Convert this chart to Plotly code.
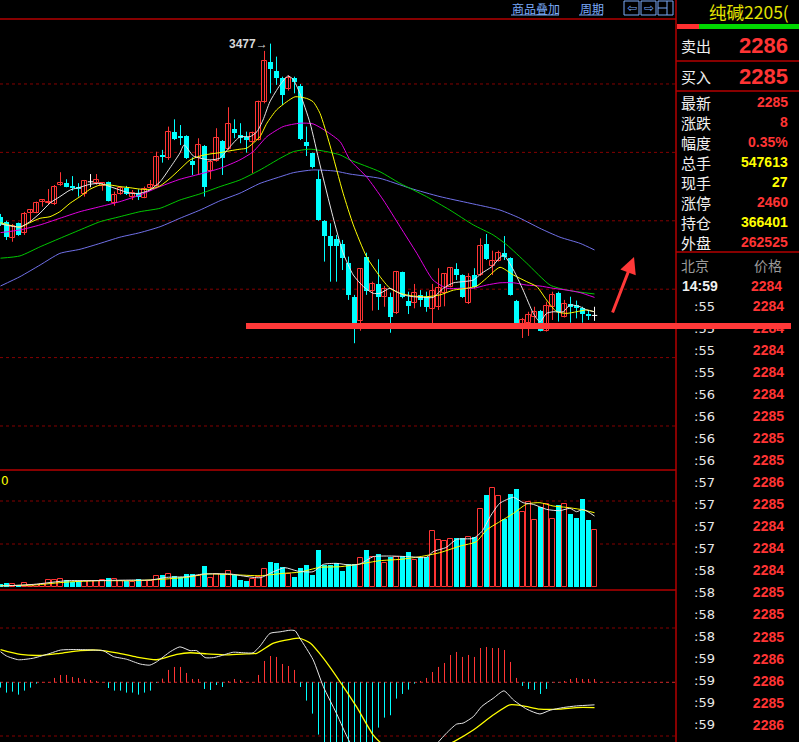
import plotly.graph_objects as go

W, H = 799, 742
SPLIT_X = 676  # left edge of the quote panel, in pixels

RED = "#ff3434"
CYAN = "#00ffff"
YELLOW = "#ffff00"
GRID = "#840000"
LINE = "#b40000"

# ---- daily candles for 纯碱2205, oldest -> newest ----
opens = [2718, 2696, 2623, 2689, 2648, 2735, 2735, 2781, 2779, 2772,
         2857, 2867, 2854, 2850, 2816, 2871, 2867, 2853, 2869, 2779,
         2816, 2843, 2806, 2823, 2801, 2843, 2853, 2989, 2974, 3091,
         3072, 3072, 2962, 2974, 3028, 2920, 2964, 3050, 3014, 3103,
         3076, 3066, 3047, 3054, 3222, 3395, 3358, 3325, 3277, 3325,
         3291, 3047, 2996, 2883, 2699, 2633, 2620, 2598, 2514, 2367,
         2262, 2540, 2393, 2423, 2364, 2367, 2297, 2474, 2348, 2341,
         2374, 2367, 2312, 2323, 2382, 2411, 2489, 2462, 2338, 2462,
         2462, 2598, 2502, 2525, 2557, 2536, 2350, 2243, 2250, 2279,
         2306, 2218, 2323, 2385, 2279, 2334, 2329, 2316, 2291, 2285]
highs = [2730, 2700, 2686, 2692, 2739, 2750, 2784, 2791, 2839, 2857,
         2913, 2882, 2896, 2865, 2879, 2905, 2905, 2870, 2872, 2828,
         2846, 2853, 2835, 2838, 2850, 2879, 3003, 3011, 3113, 3145,
         3120, 3075, 2978, 3062, 3032, 2967, 3106, 3054, 3198, 3145,
         3128, 3091, 3091, 3227, 3445, 3477, 3420, 3332, 3339, 3332,
         3300, 3113, 2999, 2923, 2703, 2689, 2638, 2616, 2543, 2375,
         2491, 2560, 2433, 2531, 2414, 2385, 2480, 2477, 2389, 2423,
         2396, 2389, 2423, 2492, 2470, 2495, 2514, 2465, 2470, 2492,
         2623, 2642, 2569, 2569, 2633, 2540, 2353, 2274, 2301, 2323,
         2309, 2345, 2389, 2389, 2353, 2367, 2350, 2323, 2309, 2323]
lows = [2677, 2616, 2608, 2634, 2638, 2692, 2733, 2762, 2769, 2769,
        2853, 2847, 2832, 2806, 2806, 2847, 2858, 2832, 2785, 2766,
        2814, 2813, 2791, 2791, 2799, 2838, 2850, 2955, 2967, 3054,
        3032, 2971, 2901, 2901, 2806, 2882, 2959, 2901, 3011, 3062,
        3040, 2999, 2908, 3052, 3215, 3259, 3296, 3208, 3271, 3259,
        3054, 2984, 2930, 2700, 2521, 2433, 2433, 2484, 2353, 2163,
        2218, 2375, 2306, 2309, 2323, 2209, 2291, 2360, 2291, 2316,
        2323, 2301, 2250, 2309, 2325, 2408, 2440, 2362, 2335, 2404,
        2458, 2528, 2462, 2521, 2528, 2372, 2235, 2186, 2195, 2243,
        2215, 2214, 2265, 2258, 2276, 2253, 2272, 2253, 2265, 2261]
closes = [2686, 2628, 2677, 2638, 2730, 2747, 2777, 2790, 2784, 2850,
          2866, 2850, 2843, 2841, 2875, 2871, 2879, 2867, 2787, 2813,
          2843, 2816, 2821, 2806, 2839, 2857, 2981, 2978, 3091, 3057,
          3062, 2974, 2945, 3032, 2850, 2957, 3062, 2974, 3123, 3086,
          3062, 3054, 3084, 3222, 3401, 3364, 3325, 3252, 3328, 3310,
          3057, 3028, 2935, 2703, 2633, 2589, 2591, 2538, 2375, 2243,
          2487, 2393, 2423, 2367, 2400, 2279, 2474, 2364, 2328, 2382,
          2353, 2321, 2392, 2404, 2467, 2492, 2462, 2364, 2452, 2411,
          2589, 2531, 2524, 2557, 2543, 2375, 2243, 2265, 2287, 2301,
          2218, 2326, 2374, 2301, 2335, 2323, 2316, 2291, 2286, 2285]
volumes = [25600, 35200, 22400, 16000, 32000, 19200, 19200, 22400, 60800, 60800,
           70400, 64000, 48000, 54400, 54400, 54400, 54400, 64000, 83200, 70400,
           54400, 54400, 41600, 73600, 54400, 54400, 102400, 112000, 121600, 102400,
           96000, 121600, 121600, 102400, 198400, 83200, 121600, 118400, 150400, 112000,
           64000, 54400, 73600, 96000, 169600, 236800, 227200, 185600, 121600, 92800,
           176000, 208000, 112000, 352000, 208000, 208000, 224000, 150400, 214400, 214400,
           272000, 352000, 288000, 313600, 224000, 288000, 288000, 294400, 332800, 256000,
           288000, 281600, 534400, 444800, 435200, 454400, 464000, 464000, 473600, 473600,
           742400, 880000, 944000, 870400, 646400, 889600, 937600, 716800, 809600, 640000,
           768000, 793600, 646400, 787200, 793600, 697600, 659200, 841600, 640000, 547613]
macd_bar = [-9.9, -19.2, -17.4, -23, -15.5, -9.9, -2.5, 0.6, 0.6, 8.1,
            13.7, 13.7, 9.9, 8.1, 6.2, 4.3, 2.5, 0.3, -10.6, -15.5,
            -15.5, -19.2, -19.2, -23, -19.2, -15.5, -1.2, 6.8, 23, 28.6,
            28.6, 17.4, 6.2, 6.2, -12.4, -14.3, -5, -8.7, 2.5, 6.2,
            4.3, 0.5, 0.5, 13.7, 39.7, 49, 47.2, 34.1, 30.4, 23,
            -8.7, -34.1, -58.3, -97.4, -125, -145, -155, -160, -160, -155,
            -145, -130, -118, -84.4, -65.8, -61.4, -30.4, -21.7, -13.7, -2.5,
            2.5, 8.1, 19.2, 28.6, 36, 50.9, 56.5, 47.2, 50.9, 47.2,
            63.9, 65.8, 63.9, 63.9, 60.2, 37.9, 8.1, -6.8, -12.4, -14.3,
            -21.7, -12.4, -0.6, -0.6, 2.5, 6.2, 8.1, 6.2, 6.2, 6.2]

# moving averages: (candle index, price)
ma5 = [(0, 2686), (3.25, 2673), (4.9, 2696), (6.6, 2734), (8.25, 2778), (9.9, 2806),
       (11.6, 2835), (13.25, 2847), (14.9, 2860), (16.6, 2864), (18.25, 2850), (19.9, 2835),
       (21.6, 2821), (23.25, 2821), (24.9, 2835), (26.6, 2871), (28.25, 2932), (29.9, 2997),
       (30.6, 3033), (32.1, 2985), (33.25, 2975), (34.9, 2967), (36.6, 2975), (38.25, 3025),
       (39.9, 3068), (41.6, 3069), (42.75, 3091), (43.75, 3142), (44.9, 3222), (46.6, 3296),
       (47.9, 3335), (48.75, 3321), (49.9, 3259), (51.6, 3128), (53.25, 2945), (55.4, 2718),
       (57.1, 2559), (58.8, 2462), (60.5, 2411), (62.1, 2382), (63.25, 2382), (64.9, 2404),
       (66, 2389), (67.1, 2375), (68.8, 2367), (70.5, 2364), (72.1, 2364), (73.8, 2404),
       (75.5, 2428), (77.1, 2433), (78.8, 2440), (80.2, 2470), (81.9, 2499), (83.8, 2550),
       (85.5, 2484), (87.1, 2396), (88.8, 2294), (89.9, 2257), (91, 2294), (92.1, 2301),
       (93.8, 2301), (94.9, 2331), (96.6, 2323), (97.7, 2309), (99, 2301)]
ma10 = [(0, 2692), (3.25, 2672), (4.9, 2692), (6.6, 2711), (8.25, 2718), (9.9, 2740),
        (11.6, 2777), (13.25, 2806), (14.9, 2838), (16.6, 2857), (18.25, 2857), (19.9, 2850),
        (21.6, 2845), (23.25, 2839), (24.9, 2838), (26.6, 2853), (28.25, 2886), (29.9, 2926),
        (31.6, 2967), (33.25, 2984), (34.9, 2993), (36.6, 2999), (38.25, 3007), (39.9, 3014),
        (41, 3018), (42.1, 3040), (43.25, 3069), (44.4, 3128), (46, 3186), (47.7, 3222),
        (49.1, 3244), (51, 3237), (52.1, 3222), (53.25, 3171), (54.9, 3032), (57.1, 2821),
        (58.8, 2682), (61, 2543), (63.25, 2455), (64.9, 2404), (66.6, 2382), (68.8, 2370),
        (71, 2367), (73.25, 2375), (75.5, 2396), (77.7, 2404), (79.4, 2414), (81, 2448),
        (83.25, 2496), (85.5, 2462), (87.7, 2433), (89.4, 2411), (91, 2353), (92.7, 2301),
        (94.4, 2294), (96, 2301), (97.7, 2309), (99, 2301)]
ma20 = [(0, 2648), (3.25, 2660), (6.6, 2682), (9.9, 2711), (13.25, 2740), (16.6, 2762),
        (19.9, 2784), (23.25, 2813), (26.6, 2850), (29.9, 2882), (33.25, 2905), (36.6, 2930),
        (39.9, 2967), (42.1, 3003), (44.4, 3069), (47.1, 3113), (49.9, 3128), (52.1, 3125),
        (54.4, 3091), (56.6, 3047), (58.25, 2967), (61, 2893), (63.8, 2791), (66.6, 2674),
        (69.4, 2557), (72.1, 2440), (74.4, 2404), (76.6, 2404), (78.8, 2404), (81, 2418),
        (83.25, 2428), (85.5, 2428), (87.7, 2418), (89.9, 2414), (92.1, 2404), (94.4, 2396),
        (96.6, 2385), (99, 2364)]
ma40 = [(0, 2536), (3.25, 2546), (6.6, 2586), (9.9, 2623), (13.25, 2660), (16.6, 2696),
        (19.9, 2718), (23.25, 2740), (26.6, 2755), (29.9, 2791), (33.25, 2818), (36.6, 2850),
        (39.9, 2879), (43.25, 2923), (46.6, 2974), (48.8, 3003), (51.6, 3014), (54.4, 3003),
        (56.6, 2989), (58.25, 2967), (63.25, 2915), (66.6, 2864), (71, 2806), (74.9, 2747),
        (78.8, 2682), (82.1, 2638), (84.4, 2594), (87.7, 2514), (91.6, 2418), (94.4, 2396),
        (99, 2379)]
ma60 = [(0, 2414), (3.25, 2455), (6.6, 2506), (9.9, 2557), (13.25, 2575), (16.6, 2601),
        (19.9, 2628), (23.25, 2648), (26.6, 2674), (29.9, 2711), (33.25, 2747), (36.6, 2788),
        (39.9, 2821), (43.25, 2864), (46.6, 2893), (48.8, 2911), (52.1, 2923), (55.75, 2918),
        (58.25, 2905), (63.25, 2886), (68.25, 2843), (73.25, 2806), (78.25, 2777), (83.25, 2747),
        (86.6, 2711), (89.9, 2667), (93.25, 2628), (96.6, 2601), (99, 2572)]

vol_ma5 = [(0, 6400), (5.5, 22400), (11.1, 57600), (14.4, 57600), (18.3, 60800), (22.2, 64000),
           (25, 64000), (27.7, 89600), (31, 96000), (33.8, 121600), (38.3, 121600), (40.5, 102400),
           (43.3, 86400), (45.5, 144000), (47.4, 182400), (49.5, 150000), (52.1, 144000),
           (53.8, 214400), (56, 224000), (58.2, 208000), (59.9, 217600), (62.1, 288000),
           (64.9, 294400), (68.2, 288000), (71, 281600), (72.1, 336000), (74.3, 377600),
           (76, 454400), (78.8, 464000), (80.2, 528000), (81.6, 672000), (83.2, 800000),
           (85.5, 857600), (87.1, 806400), (88.8, 790400), (91, 742400), (93.2, 729600),
           (94.9, 752000), (96, 720000), (97.1, 742400), (99, 678400)]
vol_ma10 = [(0, 9600), (5.5, 16000), (11.1, 44800), (16.6, 57600), (22.2, 57600), (26.6, 70400),
            (31, 89600), (34.4, 121600), (38.8, 115200), (43.3, 105600), (47.1, 128000),
            (49.9, 140000), (53.2, 185600), (56.6, 192000), (59.9, 217600), (63.2, 249600),
            (66.6, 262400), (69.9, 288000), (73.2, 326400), (76.6, 390400), (79.3, 432000),
            (81, 544000), (83.2, 624000), (85.5, 704000), (87.7, 793600), (89.9, 806400),
            (92.1, 774400), (94.3, 761600), (96.6, 742400), (99, 710400)]

dif = [(0, 57), (1, 49), (3, 42), (5.5, 45), (8.3, 54), (10, 60), (12.7, 61), (15.5, 60),
       (17.1, 59), (18.8, 48), (21, 43), (23.3, 34), (24.9, 32), (26, 38), (28.3, 57),
       (29.9, 66), (31.6, 59), (32.7, 59), (34.1, 46), (35.5, 46), (36.6, 49), (38.8, 56),
       (40.5, 55), (42.1, 55), (43.3, 68), (44.9, 91), (46.6, 94), (48.3, 97), (49.1, 96),
       (49.9, 82), (52.1, 42), (53.8, -8), (56, -58), (58.2, -111), (61, -150), (65.5, -185),
       (69.3, -170), (72.1, -125), (73, -111), (74.3, -95), (76, -78), (77.1, -76),
       (78.8, -64), (80.2, -45), (82.1, -30), (83.9, -16), (85.5, -33), (87.7, -50),
       (89.9, -59), (91.6, -52), (93.8, -47), (96, -44), (99, -42)]
dea = [(0, 61), (3.3, 52), (6.6, 50), (9.9, 54), (13.3, 59), (16, 60), (19.4, 55), (22.7, 47),
       (26, 42), (29.4, 52), (31.6, 55), (34.4, 53), (37.7, 51), (41, 53), (42.7, 54),
       (45.5, 73), (48.3, 80), (49.9, 82), (51.6, 73), (53.8, 45), (56.6, 1), (59.3, -45),
       (62.1, -98), (63.2, -111), (66.6, -140), (71, -135), (75.5, -111), (78.8, -89),
       (82.1, -61), (84.9, -42), (87.1, -44), (89.9, -50), (93.2, -50), (96, -47), (99, -47)]

# quote panel
quote_labels = ["最新", "涨跌", "幅度", "总手", "现手", "涨停", "持仓", "外盘"]
quote_values = ["2285", "8", "0.35%", "547613", "27", "2460", "366401", "262525"]
quote_colors = [RED, RED, RED, YELLOW, YELLOW, RED, YELLOW, RED]
tick_times = [":55"] * 4 + [":56"] * 4 + [":57"] * 4 + [":58"] * 4 + [":59"] * 4
tick_prices = ["2284", "2284", "2284", "2284", "2284", "2285", "2285", "2285", "2286", "2285",
               "2284", "2284", "2284", "2285", "2285", "2285", "2286", "2286", "2285", "2286"]


def px(x):
    return x / W


def py(y):
    return 1 - y / H


def segments(ids, lo, hi):
    xs, ys = [], []
    for i in ids:
        xs += [i, i, None]
        ys += [lo[i], hi[i], None]
    return xs, ys


def line_trace(pts, color, axis, width=1):
    return go.Scatter(x=[p[0] for p in pts], y=[p[1] for p in pts], mode="lines",
                      line=dict(color=color, width=width, shape="spline", smoothing=0.6),
                      xaxis="x" + axis, yaxis="y" + axis, hoverinfo="skip")


idx = list(range(len(closes)))
up = [i for i in idx if closes[i] > opens[i]]
down = [i for i in idx if closes[i] < opens[i]]
flat = [i for i in idx if closes[i] == opens[i]]

fig = go.Figure()

# ---- price panel ----
for ids, col in [(up, RED), (down, CYAN), (flat, "#ffffff")]:
    xs, ys = segments(ids, lows, highs)
    fig.add_trace(go.Scatter(x=xs, y=ys, mode="lines", line=dict(color=col, width=1),
                             hoverinfo="skip"))
fig.add_trace(go.Bar(x=up, y=[max(closes[i] - opens[i], 2) for i in up],
                     base=[opens[i] for i in up], width=0.72,
                     marker=dict(color="black", line=dict(color=RED, width=1))))
fig.add_trace(go.Bar(x=down, y=[max(opens[i] - closes[i], 2) for i in down],
                     base=[closes[i] for i in down], width=0.72,
                     marker=dict(color=CYAN, line=dict(width=0))))
dx, dy = [], []
for i in flat:
    dx += [i - 0.45, i + 0.45, None]
    dy += [closes[i], closes[i], None]
fig.add_trace(go.Scatter(x=dx, y=dy, mode="lines", line=dict(color="#ffffff", width=1)))

for pts, col in [(ma60, "#7070e8"), (ma40, "#00c800"), (ma20, "#e000e0"),
                 (ma10, YELLOW), (ma5, "#e6e6e6")]:
    fig.add_trace(line_trace(pts, col, ""))

# ---- volume panel ----
vol_up = [i for i in idx if closes[i] >= opens[i]]
vol_dn = [i for i in idx if closes[i] < opens[i]]
fig.add_trace(go.Bar(x=vol_up, y=[volumes[i] for i in vol_up], width=0.72,
                     marker=dict(color="black", line=dict(color=RED, width=1)),
                     xaxis="x2", yaxis="y2"))
fig.add_trace(go.Bar(x=vol_dn, y=[volumes[i] for i in vol_dn], width=0.72,
                     marker=dict(color=CYAN, line=dict(width=0)), xaxis="x2", yaxis="y2"))
fig.add_trace(line_trace(vol_ma10, YELLOW, "2"))
fig.add_trace(line_trace(vol_ma5, "#e6e6e6", "2"))

# ---- MACD panel ----
pos = [i for i in idx if macd_bar[i] >= 0]
neg = [i for i in idx if macd_bar[i] < 0]
zero = [0] * len(idx)
for ids, col in [(pos, RED), (neg, CYAN)]:
    xs, ys = segments(ids, zero, macd_bar)
    fig.add_trace(go.Scatter(x=xs, y=ys, mode="lines", line=dict(color=col, width=1),
                             xaxis="x3", yaxis="y3", hoverinfo="skip"))
fig.add_trace(line_trace(dea, YELLOW, "3", 1.3))
fig.add_trace(line_trace(dif, "#e6e6e6", "3"))

# ---- tick list on the right (a text trace so the drawn line can cover it) ----
rows_y = [307.7 + 22.02 * k for k in range(len(tick_times))]
fig.add_trace(go.Scatter(x=[715] * len(rows_y), y=rows_y, mode="text", text=tick_times,
                         textposition="middle left",
                         textfont=dict(color="#e8e8e8", size=13, family="DejaVu Sans"),
                         xaxis="x4", yaxis="y4", hoverinfo="skip"))
fig.add_trace(go.Scatter(x=[784] * len(rows_y), y=rows_y, mode="text",
                         text=["<b>%s</b>" % p for p in tick_prices],
                         textposition="middle left",
                         textfont=dict(color=RED, size=14, family="Liberation Sans"),
                         xaxis="x4", yaxis="y4", hoverinfo="skip"))

xr = [-0.083, 112.58]
hidden = dict(visible=False, fixedrange=True)
fig.update_layout(
    width=W, height=H, margin=dict(l=0, r=0, t=0, b=0),
    paper_bgcolor="black", plot_bgcolor="rgba(0,0,0,0)",
    showlegend=False, barmode="overlay", bargap=0, hovermode=False,
    xaxis=dict(domain=[0, px(SPLIT_X)], range=xr, anchor="y", **hidden),
    xaxis2=dict(domain=[0, px(SPLIT_X)], range=xr, anchor="y2", **hidden),
    xaxis3=dict(domain=[0, px(SPLIT_X)], range=xr, anchor="y3", **hidden),
    xaxis4=dict(domain=[0, 1], range=[0, W], anchor="y4", **hidden),
    yaxis=dict(domain=[py(470), py(19)], range=[1607, 3585], anchor="x", **hidden),
    yaxis2=dict(domain=[py(590), py(470)], range=[-31680, 1120320], anchor="x2", **hidden),
    yaxis3=dict(domain=[0, py(590)], range=[-111.2, 171.9], anchor="x3", **hidden),
    yaxis4=dict(domain=[0, 1], range=[H, 0], anchor="x4", **hidden),
)

# ---- grid and frame ----
for price in [3300, 3000, 2700, 2400, 2100, 1800]:
    fig.add_shape(type="line", xref="paper", yref="y", x0=0, x1=px(SPLIT_X), y0=price, y1=price,
                  line=dict(color=GRID, width=1, dash="dot"), layer="below")
for y in [501, 544, 628, 736]:
    fig.add_shape(type="line", xref="paper", yref="paper", x0=0, x1=px(SPLIT_X),
                  y0=py(y), y1=py(y), line=dict(color=GRID, width=1, dash="dot"), layer="below")
fig.add_shape(type="line", xref="paper", yref="y3", x0=0, x1=px(SPLIT_X), y0=0, y1=0,
              line=dict(color="#d02828", width=1, dash="dot"), layer="below")
for y in [19, 470, 590]:
    fig.add_shape(type="line", xref="paper", yref="paper", x0=0, x1=px(SPLIT_X),
                  y0=py(y), y1=py(y), line=dict(color=LINE, width=1.5))
for y in [61, 91, 252]:
    fig.add_shape(type="line", xref="paper", yref="paper", x0=px(SPLIT_X), x1=1,
                  y0=py(y), y1=py(y), line=dict(color=LINE, width=1.5))
fig.add_shape(type="line", xref="paper", yref="paper", x0=px(SPLIT_X), x1=px(SPLIT_X),
              y0=0, y1=1, line=dict(color=LINE, width=1.5))
fig.add_shape(type="rect", xref="paper", yref="paper", x0=px(677), x1=px(699),
              y0=py(29), y1=py(24), line=dict(width=0), fillcolor="#ff3030")
fig.add_shape(type="rect", xref="paper", yref="paper", x0=px(699), x1=1,
              y0=py(29), y1=py(24), line=dict(width=0), fillcolor="#00d800")

# hand-drawn support line and arrow
fig.add_shape(type="line", xref="paper", yref="paper", x0=px(246), x1=px(791),
              y0=py(326), y1=py(326), line=dict(color="#ff3838", width=6), layer="above")
fig.add_annotation(x=px(634), y=py(257), xref="paper", yref="paper", text="", showarrow=True,
                   ax=-22, ay=57, arrowhead=2, arrowsize=1.1, arrowwidth=3,
                   arrowcolor="#ff3838", standoff=0)

# ---- top toolbar ----
BLUE = "#7aaaf8"


def label(x, y, text, color, size, anchor="left", family="Noto Sans CJK SC"):
    fig.add_annotation(x=px(x), y=py(y), xref="paper", yref="paper", text=text,
                       showarrow=False, xanchor=anchor, yanchor="middle",
                       font=dict(color=color, size=size, family=family))


label(510, 8.5, "商品叠加", BLUE, 12)
label(578, 8.5, "周期", BLUE, 12)
for x0, x1 in [(511, 559), (579, 603)]:
    fig.add_shape(type="line", xref="paper", yref="paper", x0=px(x0), x1=px(x1),
                  y0=py(15), y1=py(15), line=dict(color=BLUE, width=1))
for x0 in [624, 641, 658]:
    fig.add_shape(type="rect", xref="paper", yref="paper", x0=px(x0), x1=px(x0 + 15),
                  y0=py(15), y1=py(1), line=dict(color=BLUE, width=1))
label(631.5, 8, "⇦", BLUE, 12, "center", "DejaVu Sans")
label(648.5, 8, "⇨", BLUE, 12, "center", "DejaVu Sans")
fig.add_shape(type="line", xref="paper", yref="paper", x0=px(658), x1=px(667),
              y0=py(8), y1=py(8), line=dict(color=BLUE, width=1))
fig.add_shape(type="line", xref="paper", yref="paper", x0=px(667), x1=px(667),
              y0=py(15), y1=py(1), line=dict(color=BLUE, width=1))

# ---- chart labels ----
top = highs.index(max(highs))
fig.add_annotation(x=top, y=max(highs), xref="x", yref="y", text="<b>%d</b>→" % max(highs),
                   showarrow=False, xanchor="right", yanchor="middle", xshift=-1,
                   font=dict(color="#d8d8d8", size=12, family="Liberation Sans"))
label(-1, 481, "0", YELLOW, 12, "left", "DejaVu Sans")

# ---- quote panel ----
label(707, 11.5, "纯碱2205(", "#e4e400", 17.5)
label(679, 45.5, "卖出", "#f0f0f0", 15)
label(790, 45.5, "<b>2286</b>", RED, 22, "right", "Liberation Sans")
label(679, 76, "买入", "#f0f0f0", 15)
label(790, 76, "<b>2285</b>", RED, 22, "right", "Liberation Sans")
for k, (name, val, col) in enumerate(zip(quote_labels, quote_values, quote_colors)):
    y = 102.4 + 20 * k
    label(679, y, name, "#f0f0f0", 15)
    label(790, y, "<b>%s</b>" % val, col, 14, "right", "Liberation Sans")
label(679, 265, "北京", "#9a9a9a", 14)
label(784, 265, "价格", "#9a9a9a", 14, "right")
label(680, 286, "<b>14:59</b>", "#f0f0f0", 14, "left", "Liberation Sans")
label(784, 286, "<b>2284</b>", RED, 14, "right", "Liberation Sans")

fig.write_html("out.html", config=dict(displayModeBar=False),
               post_script="document.body.style.margin='0';")
